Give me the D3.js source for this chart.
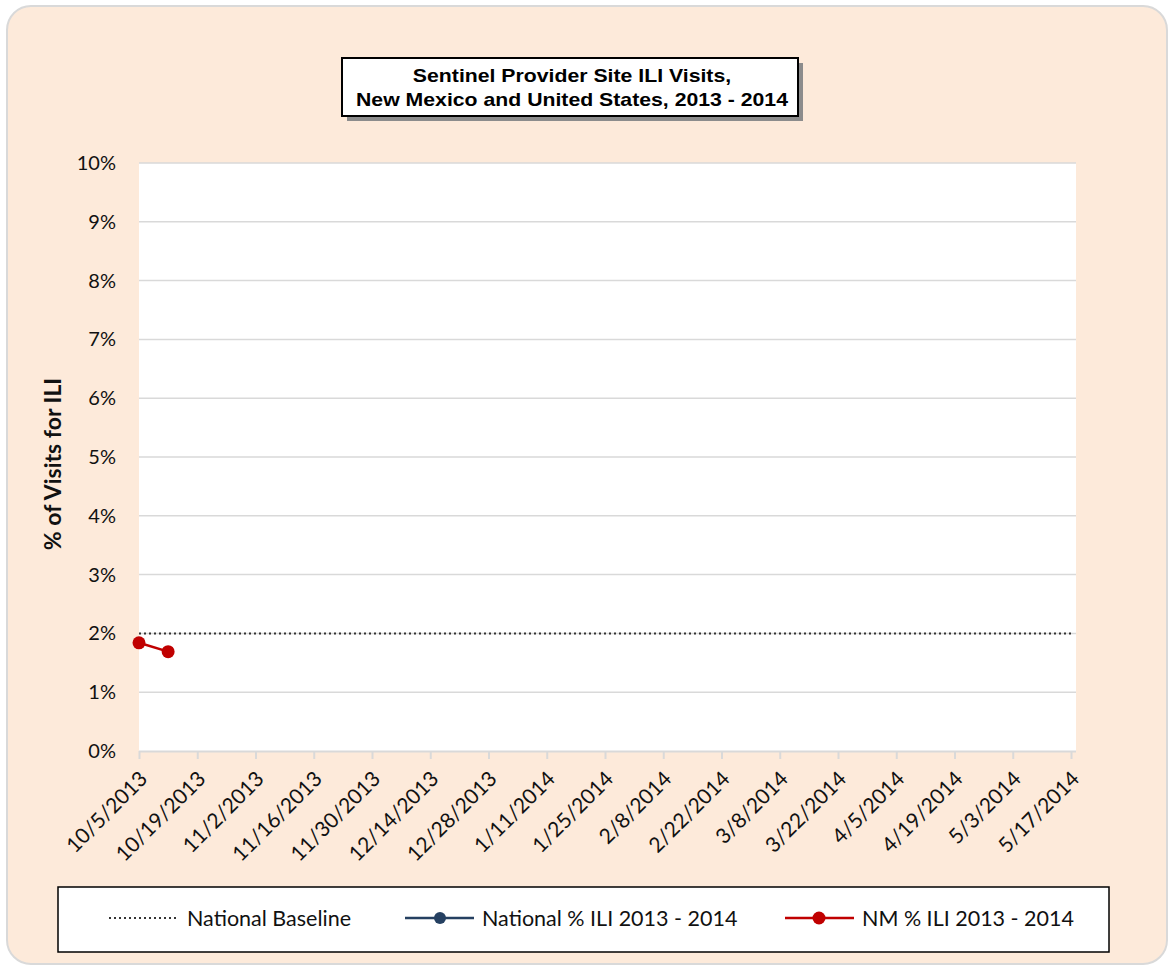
<!DOCTYPE html>
<html>
<head>
<meta charset="utf-8">
<script src="https://cdn.jsdelivr.net/npm/d3@7"></script>
<style>
  body { margin: 0; background: #fff; }
  svg text { font-family: Lato, "Open Sans", sans-serif; }
</style>
</head>
<body>
<div id="chart"></div>
<script>
// weekly dates and values
const tickDates = ["10/5/2013","10/19/2013","11/2/2013","11/16/2013","11/30/2013","12/14/2013",
  "12/28/2013","1/11/2014","1/25/2014","2/8/2014","2/22/2014","3/8/2014","3/22/2014",
  "4/5/2014","4/19/2014","5/3/2014","5/17/2014"]
const nmDates = ["10/5/2013", "10/12/2013"]
const nmValues = [1.84, 1.69]
const nationalDates = []
const nationalValues = []
const baseline = 2.0
const yTicks = [0,1,2,3,4,5,6,7,8,9,10]

const W = 1170, H = 969
const parse = d3.timeParse("%m/%d/%Y")

const svg = d3.select("#chart").append("svg")
    .attr("width", W).attr("height", H)

// outer rounded panel
svg.append("rect")
    .attr("x", 7).attr("y", 6).attr("width", 1160).attr("height", 958)
    .attr("rx", 24)
    .attr("fill", "#fdeada")
    .attr("stroke", "#d9d9d9").attr("stroke-width", 2)

const plot = {left: 139, right: 1076, top: 163, bottom: 751}

svg.append("rect")
    .attr("x", plot.left).attr("y", plot.top)
    .attr("width", plot.right - plot.left).attr("height", plot.bottom - plot.top)
    .attr("fill", "#fff")

const x = d3.scaleTime()
    .domain([parse(tickDates[0]), parse(tickDates[tickDates.length - 1])])
    .range([plot.left, 1071])

const y = d3.scaleLinear()
    .domain([0, 10])
    .range([plot.bottom, plot.top])

// gridlines
svg.append("g")
  .selectAll("line")
  .data(yTicks.slice(1))
  .join("line")
    .attr("x1", plot.left).attr("x2", plot.right)
    .attr("y1", d => y(d)).attr("y2", d => y(d))
    .attr("stroke", "#d9d9d9").attr("stroke-width", 1.5)

// y axis labels
svg.append("g")
  .selectAll("text")
  .data(yTicks)
  .join("text")
    .attr("x", 116).attr("y", d => y(d))
    .attr("dy", "0.35em")
    .attr("text-anchor", "end")
    .style("font-size", "20px")
    .attr("fill", "#111")
    .text(d => d + "%")

// x axis
const xAxis = svg.append("g")
    .attr("transform", `translate(0, ${plot.bottom})`)
    .call(d3.axisBottom(x)
        .tickValues(tickDates.map(parse))
        .tickSize(8)
        .tickFormat(d3.timeFormat("%-m/%-d/%Y")))
xAxis.select(".domain").attr("d", `M${plot.left},0.5H${plot.right}`)
    .attr("stroke", "#d9d9d9").attr("stroke-width", 2)
xAxis.selectAll(".tick line").attr("stroke", "#d9d9d9").attr("stroke-width", 2)
xAxis.selectAll(".tick text")
    .attr("fill", "#111")
    .style("font-size", "21px")
    .style("font-family", "Lato, 'Open Sans', sans-serif")
    .attr("text-anchor", "end")
    .attr("x", 0).attr("y", 0)
    .attr("dy", "0.35em")
    .attr("transform", "translate(4, 24) rotate(-45)")

// national baseline
svg.append("line")
    .attr("x1", plot.left).attr("x2", 1072)
    .attr("y1", y(baseline)).attr("y2", y(baseline))
    .attr("stroke", "#333").attr("stroke-width", 2)
    .attr("stroke-dasharray", "2,3")

const line = d3.line()
    .x(d => x(d.date))
    .y(d => y(d.value))

const national = nationalDates.map((d, i) => ({date: parse(d), value: nationalValues[i]}))
const nm = nmDates.map((d, i) => ({date: parse(d), value: nmValues[i]}))

svg.append("path").datum(national)
    .attr("d", line).attr("fill", "none")
    .attr("stroke", "#254061").attr("stroke-width", 2.5)
svg.selectAll(".natdot").data(national).join("circle")
    .attr("class", "natdot")
    .attr("cx", d => x(d.date)).attr("cy", d => y(d.value)).attr("r", 6)
    .attr("fill", "#254061")

svg.append("path").datum(nm)
    .attr("d", line).attr("fill", "none")
    .attr("stroke", "#c00000").attr("stroke-width", 2.5)
svg.selectAll(".nmdot").data(nm).join("circle")
    .attr("class", "nmdot")
    .attr("cx", d => x(d.date)).attr("cy", d => y(d.value)).attr("r", 6.5)
    .attr("fill", "#c00000")

// y axis title
svg.append("text")
    .attr("transform", `translate(61, 464) rotate(-90)`)
    .attr("text-anchor", "middle")
    .style("font-size", "23px").style("font-weight", "bold")
    .attr("fill", "#111")
    .text("% of Visits for ILI")

// title box with shadow
svg.append("rect")
    .attr("x", 347).attr("y", 63).attr("width", 456).attr("height", 58)
    .attr("fill", "#8c8c8c")
svg.append("rect")
    .attr("x", 342).attr("y", 58).attr("width", 456).attr("height", 58)
    .attr("fill", "#fff").attr("stroke", "#000").attr("stroke-width", 2)
const title = svg.append("text")
    .attr("text-anchor", "middle")
    .style("font-family", "'Liberation Sans', Arial, sans-serif")
    .style("font-size", "17.7px").style("font-weight", "bold")
    .attr("fill", "#000")
    .attr("transform", "translate(572, 0) scale(1.2, 1)")
title.append("tspan").attr("x", 0).attr("y", 82).text("Sentinel Provider Site ILI Visits,")
title.append("tspan").attr("x", 0).attr("y", 106).text("New Mexico and United States, 2013 - 2014")

// legend
svg.append("rect")
    .attr("x", 58).attr("y", 887).attr("width", 1051).attr("height", 65)
    .attr("fill", "#fff").attr("stroke", "#000").attr("stroke-width", 1.5)

const ly = 918
const legend = svg.append("g")
legend.append("line")
    .attr("x1", 109).attr("x2", 179).attr("y1", ly).attr("y2", ly)
    .attr("stroke", "#333").attr("stroke-width", 2).attr("stroke-dasharray", "2,3")
legend.append("line")
    .attr("x1", 405).attr("x2", 474).attr("y1", ly).attr("y2", ly)
    .attr("stroke", "#254061").attr("stroke-width", 2.5)
legend.append("circle").attr("cx", 440).attr("cy", ly).attr("r", 6).attr("fill", "#254061")
legend.append("line")
    .attr("x1", 785).attr("x2", 854).attr("y1", ly).attr("y2", ly)
    .attr("stroke", "#c00000").attr("stroke-width", 2.5)
legend.append("circle").attr("cx", 819).attr("cy", ly).attr("r", 6.5).attr("fill", "#c00000")

const legendItems = [["National Baseline", 187], ["National % ILI 2013 - 2014", 482], ["NM % ILI 2013 - 2014", 862]]
legend.selectAll("text").data(legendItems).join("text")
    .attr("x", d => d[1]).attr("y", ly).attr("dy", "0.35em")
    .style("font-size", "21.5px").attr("fill", "#111")
    .text(d => d[0])
</script>
</body>
</html>
